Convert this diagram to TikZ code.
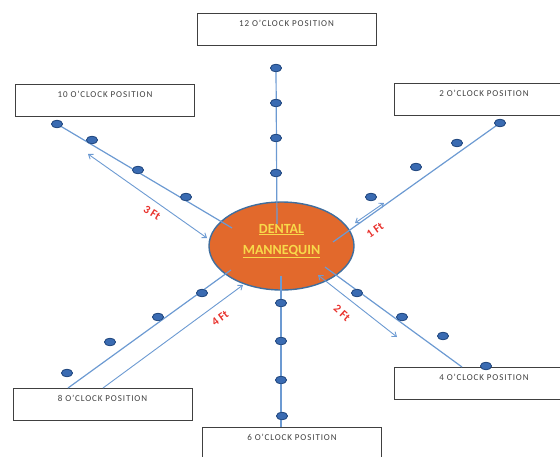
\documentclass[tikz,border=0pt]{standalone}
\usepackage{fontspec}
\setmainfont{Carlito}
\newfontfamily\boxfont[LetterSpace=10]{Carlito}
\usetikzlibrary{shapes.geometric,arrows.meta}
\definecolor{linec}{HTML}{6C9AD2}
\definecolor{dotfill}{HTML}{3A6BB2}
\definecolor{dotedge}{HTML}{22487F}
\definecolor{mqfill}{HTML}{E2692C}
\definecolor{mqedge}{HTML}{3F6E9E}
\definecolor{mqtext}{HTML}{F8D94A}
\definecolor{ftred}{HTML}{E8312C}
\definecolor{boxedge}{HTML}{404040}
\tikzset{
  posbox/.style={draw=boxedge, line width=0.9pt, fill=white, rectangle, inner sep=0pt,
    minimum width=179pt, minimum height=32pt, text height=13.5pt, text depth=18.5pt,
    font=\boxfont\fontsize{9}{10}\selectfont, text=black!75, anchor=north},
  dot/.style={ellipse, fill=dotfill, draw=dotedge, line width=0.7pt, inner sep=0pt,
    minimum width=11pt, minimum height=7.5pt},
  spoke/.style={draw=linec, line width=1.2pt},
  meas/.style={draw=linec, line width=0.9pt},
  ftlab/.style={text=ftred, font=\bfseries\fontsize{11.5}{12}\selectfont, inner sep=0pt},
  onetip/.style={-{Straight Barb[length=4pt,width=6pt]}},
  twotip/.style={{Straight Barb[length=4pt,width=6pt]}-{Straight Barb[length=4pt,width=6pt]}}
}
\begin{document}
\begin{tikzpicture}[x=1pt,y=-1pt]
\useasboundingbox (0,0) rectangle (560,456);
% boxes
\node[posbox] (b12) at (286.5,13) {12 O’CLOCK POSITION};
\node[posbox] (b10) at (105,84) {10 O’CLOCK POSITION};
\node[posbox] (b2) at (484,83) {2 O’CLOCK POSITION};
\node[posbox] (b8) at (102.5,388) {8 O’CLOCK POSITION};
\node[posbox] (b4) at (484,367) {4 O’CLOCK POSITION};
\node[posbox] (b6) at (292,427) {6 O’CLOCK POSITION};
% mannequin
\node[ellipse, fill=mqfill, draw=mqedge, line width=1.4pt, minimum width=145pt, minimum height=88pt, inner sep=0pt] (mq) at (281.5,246) {};
% inner end points
\coordinate (c12) at (277,224);
\coordinate (c6) at (281,276);
\coordinate (c10) at (232,228);
\coordinate (c2) at (333,242);
\coordinate (c8) at (231,270);
\coordinate (c4) at (325,267);
% dots
\node[dot] (t1) at (276,68) {};
\node[dot] (t2) at (276,103) {};
\node[dot] (t3) at (276,138) {};
\node[dot] (t4) at (276,173) {};
\node[dot] (s1) at (281,303) {};
\node[dot] (s2) at (281,341) {};
\node[dot] (s3) at (281,380) {};
\node[dot] (s4) at (282,416) {};
\node[dot] (w1) at (57,124) {};
\node[dot] (w2) at (92,140) {};
\node[dot] (w3) at (138,170) {};
\node[dot] (w4) at (186,197) {};
\node[dot] (e1) at (500,123) {};
\node[dot] (e2) at (457,143) {};
\node[dot] (e3) at (416,167) {};
\node[dot] (e4) at (371,197) {};
\node[dot] (g1) at (67,373) {};
\node[dot] (g2) at (110,342) {};
\node[dot] (g3) at (158,317) {};
\node[dot] (g4) at (202,293) {};
\node[dot] (f1) at (357,293) {};
\node[dot] (f2) at (402,317) {};
\node[dot] (f3) at (443,336) {};
\node[dot] (f4) at (486,366) {};
% spokes
\draw[spoke] (t1.center) -- (c12);
\draw[spoke] (c6) -- (b6.north -| c6);
\draw[spoke] (w1.center) -- (c10);
\draw[spoke] (e1.center) -- (c2);
\coordinate (p8) at (68,388);
\draw[spoke] (p8) -- (c8);
\coordinate (p4) at (462,367);
\draw[spoke] (c4) -- (p4);
% redraw dots on top
\foreach \n in {t1,t2,t3,t4,s1,s2,s3,s4,w1,w2,w3,w4,e1,e2,e3,e4,g1,g2,g3,g4,f1,f2,f3,f4}
  \node[dot] at (\n) {};
% mannequin text
\node[text=mqtext, font=\bfseries\fontsize{14}{21}\selectfont, align=center, inner sep=0pt] (mqt) at (281.5,241)
  {\underline{DENTAL}\\\underline{MANNEQUIN}};
% measuring arrows
\coordinate (a10a) at (88,154);
\coordinate (a10b) at (207,238);
\draw[meas,twotip] (a10a) -- (a10b);
\coordinate (a2a) at (355,223);
\coordinate (a2b) at (384,203);
\draw[meas,twotip] (a2a) -- (a2b);
\coordinate (a8a) at (103,388);
\coordinate (a8b) at (243,285);
\draw[meas,onetip] (a8a) -- (a8b);
\coordinate (a4a) at (318,275);
\coordinate (a4b) at (397,337);
\draw[meas,twotip] (a4a) -- (a4b);
% labels
\node[ftlab, rotate=-32] (l3) at (152,213) {3 Ft};
\node[ftlab, rotate=35] (l1) at (375,230) {1 Ft};
\node[ftlab, rotate=36] (l4) at (220,318) {4 Ft};
\node[ftlab, rotate=-42] (l2) at (342,313) {2 Ft};
\end{tikzpicture}
\end{document}
